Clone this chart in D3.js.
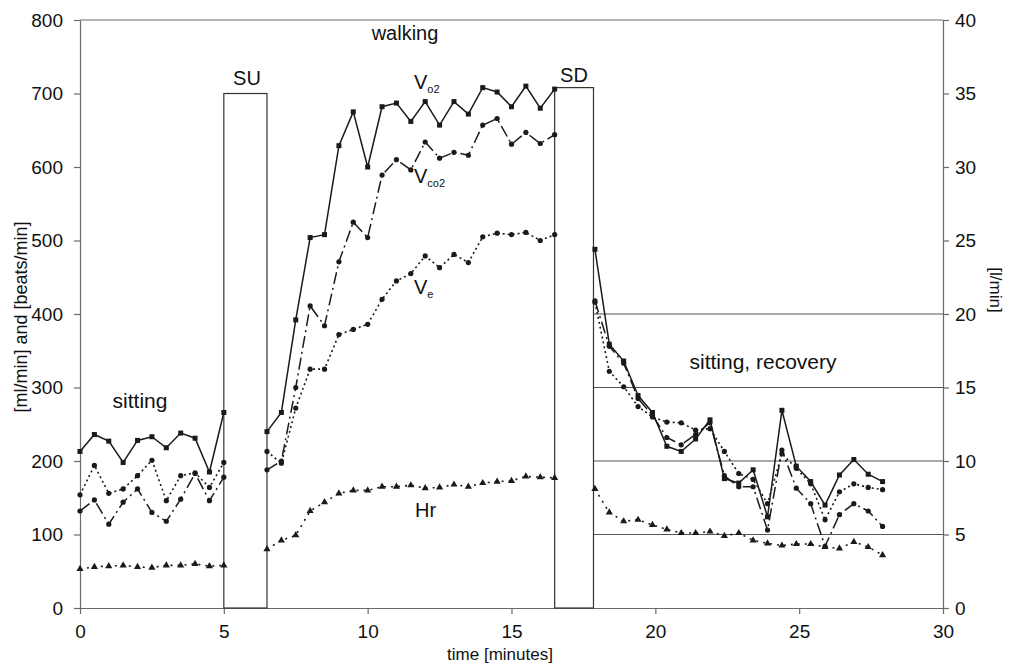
<!DOCTYPE html>
<html>
<head>
<meta charset="utf-8">
<script src="https://cdn.jsdelivr.net/npm/d3@7"></script>
<style>
  body { margin: 0; background: #fff; }
  svg { display: block; font-family: "Liberation Sans", Arial, sans-serif; }
</style>
</head>
<body>
<svg id="chart" width="1016" height="665"></svg>
<script>
// time points (minutes) of each phase
const sitMin  = [0, 0.5, 1, 1.5, 2, 2.5, 3, 3.5, 4, 4.5, 5];
const walkMin = [6.5, 7, 7.5, 8, 8.5, 9, 9.5, 10, 10.5, 11, 11.5, 12, 12.5, 13, 13.5, 14, 14.5, 15, 15.5, 16, 16.5];
const recMin  = [17.9, 18.4, 18.9, 19.4, 19.9, 20.4, 20.9, 21.4, 21.9, 22.4, 22.9, 23.4, 23.9, 24.4, 24.9, 25.4, 25.9, 26.4, 26.9, 27.4, 27.9];

// Vo2 [ml/min]
const vo2Sit  = [213, 236, 227, 198, 228, 233, 218, 238, 231, 185, 266];
const vo2Walk = [240, 266, 392, 504, 508, 629, 675, 600, 682, 687, 662, 689, 657, 689, 672, 708, 702, 682, 710, 680, 706];
const vo2Rec  = [488, 359, 336, 289, 266, 220, 213, 230, 256, 176, 170, 188, 124, 269, 193, 172, 140, 181, 202, 182, 172];

// Vco2 [ml/min]
const vco2Sit  = [132, 147, 114, 144, 162, 130, 118, 148, 183, 146, 178];
const vco2Walk = [188, 200, 300, 411, 384, 471, 525, 504, 589, 610, 596, 634, 612, 620, 616, 657, 666, 631, 647, 632, 644];
const vco2Rec  = [418, 356, 333, 285, 262, 232, 222, 236, 252, 180, 165, 165, 106, 215, 163, 142, 84, 127, 142, 132, 111];

// Ve (plotted on the left scale, 20 units = 1 l/min)
const veSit  = [154, 194, 156, 162, 180, 201, 146, 180, 184, 164, 198];
const veWalk = [213, 197, 272, 325, 325, 372, 379, 386, 420, 445, 455, 479, 463, 481, 470, 505, 510, 508, 511, 500, 508];
const veRec  = [416, 322, 301, 274, 260, 253, 252, 242, 244, 213, 183, 175, 142, 210, 190, 169, 120, 158, 169, 164, 161];

// Hr [beats/min]
const hrSit  = [53, 56, 57, 58, 56, 55, 58, 58, 60, 57, 58];
const hrWalk = [80, 92, 99, 132, 144, 156, 160, 160, 165, 165, 167, 163, 164, 168, 165, 170, 172, 173, 179, 178, 177];
const hrRec  = [162, 130, 118, 120, 113, 107, 102, 102, 104, 98, 102, 92, 88, 85, 87, 87, 83, 81, 90, 83, 72];

// boxes: [start, end, height]
const boxSU = [5, 6.5, 700];
const boxSD = [16.5, 17.85, 708];
const gridLpm = [5, 10, 15, 20];

const svg = d3.select('#chart');
const L = 80, R = 943, T = 20, B = 608;

const x  = d3.scaleLinear().domain([0, 30]).range([L, R]);
const y  = d3.scaleLinear().domain([0, 800]).range([B, T]);
const yR = d3.scaleLinear().domain([0, 40]).range([B, T]);

const ink = '#1a1a1a', axisCol = '#6a6a6a';

// right-hand grid lines (recovery part)
svg.append('g').selectAll('line').data(gridLpm).enter().append('line')
  .attr('x1', x(boxSD[1])).attr('x2', R)
  .attr('y1', d => yR(d)).attr('y2', d => yR(d))
  .attr('stroke', '#555').attr('stroke-width', 1.2);

// top frame line
svg.append('line').attr('x1', L).attr('x2', R).attr('y1', T).attr('y2', T)
  .attr('stroke', axisCol).attr('stroke-width', 1.2);

function styleAxis(g) {
  g.selectAll('path, line').attr('stroke', axisCol).attr('stroke-width', 1.2);
  g.selectAll('text').attr('fill', '#111').style('font-size', '19px')
    .style('font-family', '"Liberation Sans", Arial, sans-serif');
}

svg.append('g').attr('transform', `translate(${L},0)`)
  .call(d3.axisLeft(y).tickValues(d3.range(0, 801, 100)).tickSize(6).tickSizeOuter(0).tickPadding(11))
  .call(styleAxis);

svg.append('g').attr('transform', `translate(${R},0)`)
  .call(d3.axisRight(yR).tickValues(d3.range(0, 41, 5)).tickSize(6).tickSizeOuter(0).tickPadding(6))
  .call(styleAxis);

svg.append('g').attr('transform', `translate(0,${B})`)
  .call(d3.axisBottom(x).tickValues(d3.range(0, 31, 5)).tickSize(6).tickSizeOuter(0).tickPadding(11))
  .call(styleAxis);

// SU / SD boxes
[boxSU, boxSD].forEach(b => {
  svg.append('rect')
    .attr('x', x(b[0])).attr('y', y(b[2]))
    .attr('width', x(b[1]) - x(b[0])).attr('height', B - y(b[2]))
    .attr('fill', 'none').attr('stroke', '#333').attr('stroke-width', 1.2);
});

// series
const phases = [
  {min: sitMin,  vo2: vo2Sit,  vco2: vco2Sit,  ve: veSit,  hr: hrSit},
  {min: walkMin, vo2: vo2Walk, vco2: vco2Walk, ve: veWalk, hr: hrWalk},
  {min: recMin,  vo2: vo2Rec,  vco2: vco2Rec,  ve: veRec,  hr: hrRec}
];
const specs = [
  {key: 'hr',   dash: '2,5',      width: 1.6, mark: 'tri'},
  {key: 've',   dash: '2,3',      width: 1.6, mark: 'dot'},
  {key: 'vco2', dash: '12,4,2,4', width: 1.5, mark: 'dot'},
  {key: 'vo2',  dash: null,       width: 1.5, mark: 'sq'}
];

const line = d3.line().x(d => x(d[0])).y(d => y(d[1]));

specs.forEach(s => {
  const g = svg.append('g');
  phases.forEach(p => {
    const pts = p.min.map((m, i) => [m, p[s.key][i]]);
    g.append('path').datum(pts)
      .attr('d', line).attr('fill', 'none')
      .attr('stroke', ink).attr('stroke-width', s.width)
      .attr('stroke-dasharray', s.dash);
    const mk = g.selectAll(null).data(pts).enter();
    if (s.mark === 'tri') {
      mk.append('path')
        .attr('d', d3.symbol(d3.symbolTriangle, 22))
        .attr('transform', d => `translate(${x(d[0])},${y(d[1])})`)
        .attr('fill', ink);
    } else if (s.mark === 'sq') {
      mk.append('rect')
        .attr('x', d => x(d[0]) - 2.5).attr('y', d => y(d[1]) - 2.5)
        .attr('width', 5).attr('height', 5).attr('fill', ink);
    } else {
      mk.append('circle')
        .attr('cx', d => x(d[0])).attr('cy', d => y(d[1]))
        .attr('r', 2.6).attr('fill', ink);
    }
  });
});

// text labels
function label(txt, px, py, size, anchor) {
  return svg.append('text').attr('x', px).attr('y', py)
    .attr('text-anchor', anchor || 'middle')
    .style('font-size', size + 'px').attr('fill', '#111').text(txt);
}
label('walking', 405, 40, 20);
label('SU', 247, 85, 20);
label('SD', 574, 82, 20);
label('sitting', 140, 408, 21);
label('sitting, recovery', 763, 369, 21);
label('Hr', 415, 517, 20, 'start');

function vLabel(sub, px, py) {
  const t = svg.append('text').attr('x', px).attr('y', py)
    .style('font-size', '20px').attr('fill', '#111');
  t.append('tspan').text('V');
  t.append('tspan').attr('dy', 4).style('font-size', '11px').text(sub);
}
vLabel('o2', 414, 89);
vLabel('co2', 414, 183);
vLabel('e', 414, 294);

// axis titles
svg.append('text')
  .attr('transform', `translate(27,317) rotate(-90)`)
  .attr('text-anchor', 'middle').style('font-size', '18px').attr('fill', '#111')
  .text('[ml/min] and [beats/min]');
svg.append('text')
  .attr('transform', `translate(990,290) rotate(90)`)
  .attr('text-anchor', 'middle').style('font-size', '17px').attr('fill', '#111')
  .text('[l/min]');
svg.append('text')
  .attr('x', 500).attr('y', 660).attr('text-anchor', 'middle')
  .style('font-size', '17px').attr('fill', '#111')
  .text('time [minutes]');
</script>
</body>
</html>
